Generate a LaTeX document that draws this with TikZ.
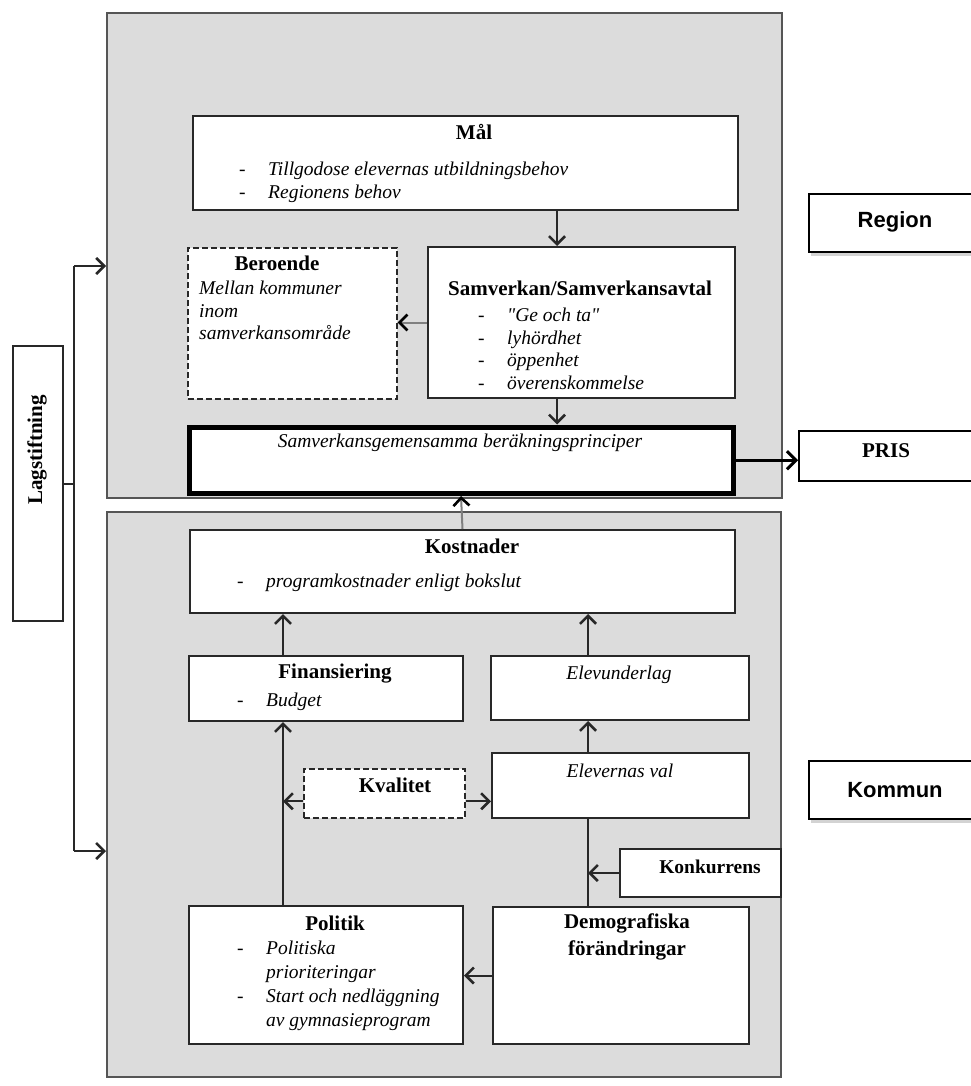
\documentclass[tikz,border=0pt]{standalone}
\usepackage{fontspec}
\setmainfont{Liberation Serif}
\newfontfamily\quoteFont{Liberation Serif}
\newfontfamily\labelFont{Liberation Sans}
\usetikzlibrary{positioning,arrows.meta,shadows}
\definecolor{levelGray}{RGB}{220,220,220}
\definecolor{levelLine}{RGB}{85,85,85}
\definecolor{boxLine}{RGB}{40,40,40}
\tikzstyle{diagram} = [x = 1pt, y = -1pt]
\tikzstyle{levelBox} = [draw=levelLine, fill=levelGray, line width=1.6pt, inner sep=0]
\tikzstyle{plainBox} = [draw=boxLine, fill=white, line width=2pt, inner sep=0]
\tikzstyle{dashedBox} = [plainBox, line width=1.6pt, dash pattern=on 6pt off 3pt]
\tikzstyle{boldBox} = [draw=black, fill=white, line width=5pt, inner sep=0]
\tikzstyle{prisBox} = [draw=black, fill=white, line width=2.4pt, inner sep=0]
\tikzstyle{tagBox} = [draw=black, fill=white, line width=2.4pt, inner sep=0, drop shadow={shadow xshift=2pt, shadow yshift=-4pt, opacity=.35}]
\tikzstyle{titleText} = [font=\fontsize{21}{27}\selectfont\bfseries, inner sep=0, align=center, anchor=north]
\tikzstyle{itemText} = [font=\fontsize{19.5}{22.5}\selectfont\itshape, inner sep=0, align=left, anchor=north west]
\tikzstyle{tagText} = [font=\labelFont\fontsize{22}{26}\selectfont\bfseries, inner sep=0]
\tikzstyle{flowLine} = [draw=boxLine, line width=2pt]
\tikzstyle{flowArrow} = [flowLine, -{Straight Barb[length=8pt, width=16pt, line width=2.6pt]}]
\tikzstyle{greyArrow} = [flowLine, draw=gray, -{Straight Barb[length=8pt, width=16pt, line width=2.6pt, color=black]}]
\tikzstyle{thickArrow} = [draw=black, line width=3pt, -{Straight Barb[length=9pt, width=18pt]}]
\newcommand{\dashItem}[1]{\makebox[29pt][l]{\upshape -}#1}
\newcommand{\wrapItem}[1]{\hspace*{29pt}#1}
\newcommand{\straightQuote}{{\quoteFont\itshape"}}
\newcommand{\flowBox}[6]{\node [#6, anchor=north west, minimum width={(#4-#2)*1pt}, minimum height={(#5-#3)*1pt}] (#1) at (#2,#3) {};}

\begin{document}
\begin{tikzpicture}[diagram]
  \useasboundingbox (0,0) rectangle (970,1086);
  \flowBox{regionLevel}{106}{12}{781}{497}{levelBox}
  \flowBox{kommunLevel}{106}{511}{780}{1076}{levelBox}
  \flowBox{lagstiftning}{12}{345}{62}{620}{plainBox}
  \flowBox{mal}{192}{115}{737}{209}{plainBox}
  \flowBox{beroende}{187}{247}{396}{398}{dashedBox}
  \flowBox{samverkan}{427}{246}{734}{397}{plainBox}
  \flowBox{principer}{186.5}{424.5}{730.5}{491}{boldBox}
  \flowBox{kostnader}{189}{529}{734}{612}{plainBox}
  \flowBox{finansiering}{188}{655}{462}{720}{plainBox}
  \flowBox{elevunderlag}{490}{655}{748}{719}{plainBox}
  \flowBox{kvalitet}{303}{768}{464}{817}{dashedBox}
  \flowBox{elevernasVal}{491}{752}{748}{817}{plainBox}
  \flowBox{konkurrens}{619}{848}{780}{896}{plainBox}
  \flowBox{politik}{188}{905}{462}{1043}{plainBox}
  \flowBox{demografi}{492}{906}{748}{1043}{plainBox}
  \flowBox{pris}{798}{430}{976}{480}{prisBox}
  \flowBox{regionTag}{808}{193}{982}{251}{tagBox}
  \flowBox{kommunTag}{808}{760}{982}{818}{tagBox}

  \node [titleText] (malTitle) at (474,124) {Mål};
  \node [itemText] (malItems) at (239,162) {\dashItem{Tillgodose elevernas utbildningsbehov}\\ \dashItem{Regionens behov}};
  \node [titleText] (beroendeTitle) at (277,256) {Beroende};
  \node [itemText] (beroendeItems) at (199,281) {Mellan kommuner\\ inom\\ samverkansområde};
  \node [titleText] (samverkanTitle) at (580,281) {Samverkan/Samverkansavtal};
  \node [itemText] (samverkanItems) at (478,308) {\dashItem{\straightQuote Ge och ta\straightQuote}\\ \dashItem{lyhördhet}\\ \dashItem{öppenhet}\\ \dashItem{överenskommelse}};
  \node [itemText, anchor=north] (principerText) at (460,434) {Samverkansgemensamma beräkningsprinciper};
  \node [titleText] (kostnaderTitle) at (472,539) {Kostnader};
  \node [itemText] (kostnaderItems) at (237,574) {\dashItem{programkostnader enligt bokslut}};
  \node [titleText] (finansieringTitle) at (335,664) {Finansiering};
  \node [itemText] (finansieringItems) at (237,693) {\dashItem{Budget}};
  \node [itemText, anchor=north] (elevunderlagText) at (619,666) {Elevunderlag};
  \node [itemText, anchor=north] (elevernasValText) at (620,764) {Elevernas val};
  \node [titleText] (kvalitetTitle) at (395,778) {Kvalitet};
  \node [titleText, font=\fontsize{19.5}{24}\selectfont\bfseries] (konkurrensTitle) at (710,860) {Konkurrens};
  \node [titleText] (politikTitle) at (335,916) {Politik};
  \node [itemText, font=\fontsize{19.5}{24}\selectfont\itshape] (politikItems) at (237,941) {\dashItem{Politiska}\\ \wrapItem{prioriteringar}\\ \dashItem{Start och nedläggning}\\ \wrapItem{av gymnasieprogram}};
  \node [titleText] (demografiTitle) at (627,914) {Demografiska\\ förändringar};
  \node [titleText] (prisTitle) at (886,443) {PRIS};
  \node [tagText] (regionText) at (895,222) {Region};
  \node [tagText] (kommunText) at (895,790) {Kommun};
  \node [titleText, rotate=90, anchor=center] (lagText) at (37,450) {Lagstiftning};

  \coordinate (midColumn) at (557,0);
  \coordinate (leftColumn) at (283,0);
  \coordinate (rightColumn) at (588,0);
  \coordinate (lawUp) at (74,266);
  \coordinate (lawDown) at (74,851);
  \coordinate (kvalitetLevel) at ([yshift=-8pt]kvalitet.center);

  \draw [flowArrow] (mal.south -| midColumn) -- (samverkan.north -| midColumn);
  \draw [flowArrow] (samverkan.south -| midColumn) -- (principer.north -| midColumn);
  \draw [greyArrow] (samverkan.west) -- (beroende.east |- samverkan.west);
  \draw [greyArrow] (kostnader.north) -- (principer.south);
  \draw [thickArrow] (principer.east) -- (pris.west |- principer.east);
  \draw [flowArrow] (finansiering.north -| leftColumn) -- (kostnader.south -| leftColumn);
  \draw [flowArrow] (politik.north -| leftColumn) -- (finansiering.south -| leftColumn);
  \draw [flowArrow] (elevunderlag.north -| rightColumn) -- (kostnader.south -| rightColumn);
  \draw [flowArrow] (elevernasVal.north -| rightColumn) -- (elevunderlag.south -| rightColumn);
  \draw [flowLine] (demografi.north -| rightColumn) -- (elevernasVal.south -| rightColumn);
  \draw [flowArrow] (konkurrens.west) -- (konkurrens.west -| rightColumn);
  \draw [flowArrow] (kvalitet.west |- kvalitetLevel) -- (leftColumn |- kvalitetLevel);
  \draw [flowArrow] (kvalitet.east |- kvalitetLevel) -- (elevernasVal.west |- kvalitetLevel);
  \draw [flowArrow] (demografi.west) -- (politik.east |- demografi.west);
  \draw [flowLine] (lagstiftning.east) -- (lagstiftning.east -| lawUp);
  \draw [flowLine] (lawUp) -- (lawDown);
  \draw [flowArrow] (lawUp) -- (lawUp -| regionLevel.west);
  \draw [flowArrow] (lawDown) -- (lawDown -| kommunLevel.west);
\end{tikzpicture}
\end{document}
